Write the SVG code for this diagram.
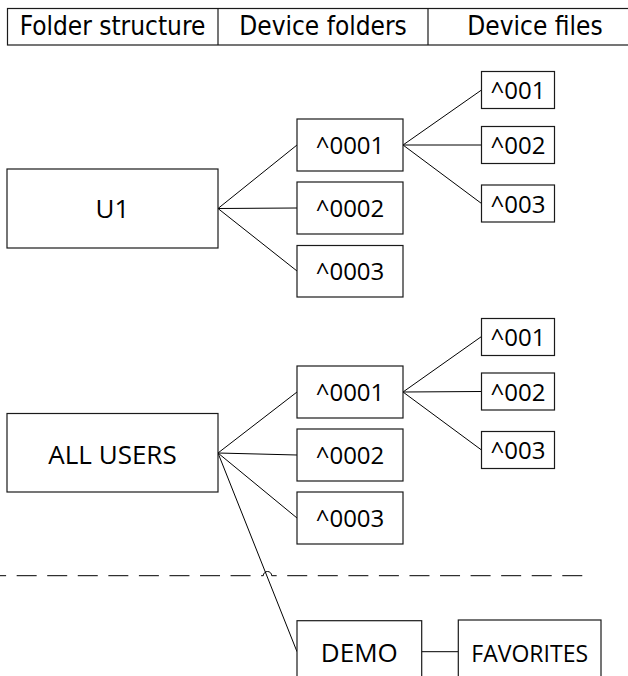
<svg xmlns="http://www.w3.org/2000/svg" width="628" height="676" viewBox="0 0 628 676">
<style>
  .box { fill: #ffffff; stroke: #1a1a1a; stroke-width: 1.2; }
  .hdr { font-family: "DejaVu Sans Condensed", "DejaVu Sans", sans-serif; font-size: 26px; fill: #000; text-anchor: middle; }
  .lbl { font-family: "Open Sans", "Liberation Sans", sans-serif; font-size: 24px; fill: #000; text-anchor: middle; }
  .big { font-size: 26px; }
  .fav { font-size: 23px; }
  .conn line, .conn path { stroke: #000; stroke-width: 1; fill: none; }
  .dash { stroke: #000; stroke-width: 1; fill: none; stroke-dasharray: 20 10.56; stroke-dashoffset: 13.9; }
</style>
<rect width="628" height="676" fill="#ffffff"/>

<g id="header">
  <rect class="box" x="7.5" y="8.5" width="640" height="36.5"/>
  <line x1="218" y1="8.5" x2="218" y2="45" stroke="#1a1a1a" stroke-width="1.2"/>
  <line x1="428" y1="8.5" x2="428" y2="45" stroke="#1a1a1a" stroke-width="1.2"/>
  <text class="hdr" x="112.5" y="35">Folder structure</text>
  <text class="hdr" x="323" y="35">Device folders</text>
  <text class="hdr" x="535" y="35">Device files</text>
</g>

<g class="conn" id="connectors">
  <line x1="218" y1="208.5" x2="297" y2="145"/>
  <line x1="218" y1="208.5" x2="297" y2="208"/>
  <line x1="218" y1="208.5" x2="297" y2="271"/>
  <line x1="403" y1="145" x2="481.5" y2="90"/>
  <line x1="403" y1="145" x2="481.5" y2="145"/>
  <line x1="403" y1="145" x2="481.5" y2="203.5"/>
  <line x1="218" y1="453" x2="297" y2="392"/>
  <line x1="218" y1="453" x2="297" y2="455"/>
  <line x1="218" y1="453" x2="297" y2="518"/>
  <line x1="218" y1="453" x2="297" y2="651.7"/>
  <line x1="403" y1="392" x2="481.5" y2="336.5"/>
  <line x1="403" y1="392" x2="481.5" y2="391.5"/>
  <line x1="403" y1="392" x2="481.5" y2="450"/>
  <line x1="421.7" y1="651.7" x2="458.3" y2="651.7"/>
</g>

<path id="separator" class="dash" d="M0,575.7 H263.3 A4.2,4.2 0 0 1 271.7,575.7 H586.7"/>

<g id="u1"><rect class="box" x="7" y="169" width="211" height="79"/><text class="lbl big" x="112.5" y="218">U1</text></g>
<g id="u1-0001"><rect class="box" x="297" y="119" width="106" height="52"/><text class="lbl" x="350" y="154">^0001</text></g>
<g id="u1-0002"><rect class="box" x="297" y="182" width="106" height="52"/><text class="lbl" x="350" y="217">^0002</text></g>
<g id="u1-0003"><rect class="box" x="297" y="245.5" width="106" height="51.5"/><text class="lbl" x="350" y="280">^0003</text></g>
<g id="u1-001"><rect class="box" x="481.5" y="71.5" width="73" height="37"/><text class="lbl" x="518" y="99">^001</text></g>
<g id="u1-002"><rect class="box" x="481.5" y="126.5" width="73" height="37"/><text class="lbl" x="518" y="154">^002</text></g>
<g id="u1-003"><rect class="box" x="481.5" y="185" width="73" height="37"/><text class="lbl" x="518" y="212.5">^003</text></g>

<g id="allusers"><rect class="box" x="7" y="413.5" width="211" height="78.5"/><text class="lbl big" x="112.5" y="464">ALL USERS</text></g>
<g id="au-0001"><rect class="box" x="297" y="366" width="106" height="52"/><text class="lbl" x="350" y="401">^0001</text></g>
<g id="au-0002"><rect class="box" x="297" y="429" width="106" height="52"/><text class="lbl" x="350" y="464">^0002</text></g>
<g id="au-0003"><rect class="box" x="297" y="492" width="106" height="52"/><text class="lbl" x="350" y="527">^0003</text></g>
<g id="au-001"><rect class="box" x="481.5" y="318.5" width="73" height="37"/><text class="lbl" x="518" y="346">^001</text></g>
<g id="au-002"><rect class="box" x="481.5" y="373" width="73" height="37"/><text class="lbl" x="518" y="400.5">^002</text></g>
<g id="au-003"><rect class="box" x="481.5" y="431.5" width="73" height="37"/><text class="lbl" x="518" y="459">^003</text></g>

<g id="demo"><rect class="box" x="297" y="620.7" width="124.7" height="70"/><text class="lbl big" x="359.3" y="661.7">DEMO</text></g>
<g id="favorites"><rect class="box" x="458.3" y="620" width="142.7" height="70"/><text class="lbl fav" x="529.7" y="661.7">FAVORITES</text></g>
</svg>
